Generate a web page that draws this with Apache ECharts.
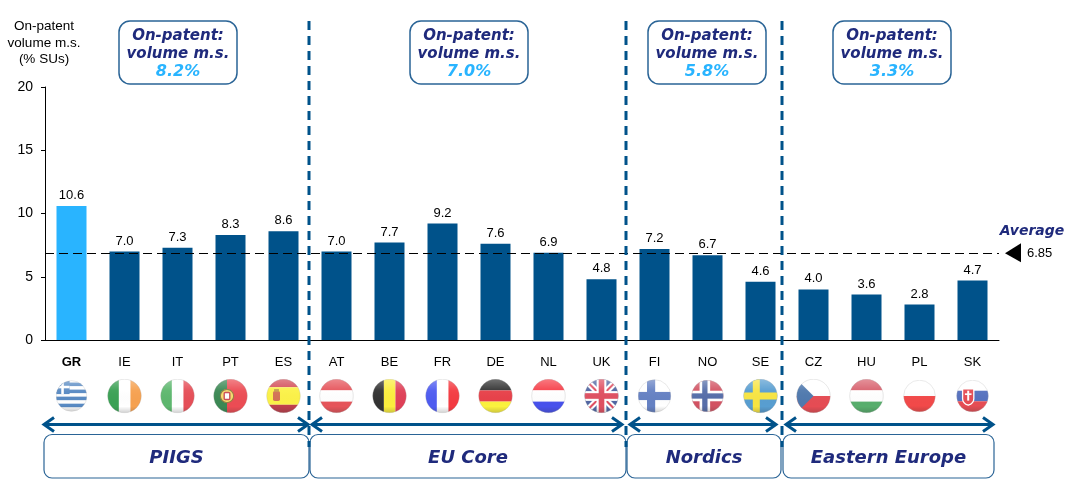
<!DOCTYPE html>
<html>
<head>
<meta charset="utf-8">
<style>html,body{margin:0;padding:0;background:#fff}#c{width:1069px;height:494px}</style>
<script src="https://cdn.jsdelivr.net/npm/echarts@6/dist/echarts.min.js"></script>
</head>
<body>
<div id="c"></div>
<script>
const categories = ['GR','IE','IT','PT','ES','AT','BE','FR','DE','NL','UK','FI','NO','SE','CZ','HU','PL','SK'];
const values = [10.6,7.0,7.3,8.3,8.6,7.0,7.7,9.2,7.6,6.9,4.8,7.2,6.7,4.6,4.0,3.6,2.8,4.7];
const averageValue = 6.85;
const regionNames = ['PIIGS','EU Core','Nordics','Eastern Europe'];
const regionShares = ['8.2%','7.0%','5.8%','3.3%'];
const yTitle = ['On-patent','volume m.s.','(% SUs)'];
const flagSizes = [32,35,35,35,35,35,35,35,35,35,35,34,33,35,35,35,33,33];

const NAVY = '#1F2A7C', BLUE = '#00528A', SKY = '#29B4FF', EDGE = '#2A6496';
const MONO = '"Liberation Sans", Arial, sans-serif';
const WIDE = '"DejaVu Sans", Verdana, sans-serif';

const h = (c) => `<rect x="0" y="0" width="100" height="100" fill="${c}"/>`;
const r = (x,y,w,hh,c) => `<rect x="${x}" y="${y}" width="${w}" height="${hh}" fill="${c}"/>`;
const flagArt = {
  GR: h('#fff')+[8,30,52,74].map(y=>r(0,y,100,11,'#2F6DB5')).join('')+r(0,0,44,44,'#2F6DB5')+r(18,0,8,44,'#fff')+r(0,18,44,8,'#fff'),
  IE: r(0,0,34,100,'#0A8A2A')+r(34,0,33,100,'#fff')+r(67,0,33,100,'#F58A24'),
  IT: r(0,0,34,100,'#35A64A')+r(34,0,33,100,'#fff')+r(67,0,33,100,'#E0232E'),
  PT: r(0,0,40,100,'#0B6B2A')+r(40,0,60,100,'#E8202A')+'<circle cx="40" cy="50" r="19" fill="#F4D24A" stroke="#7A5A12" stroke-width="3"/><rect x="32" y="40" width="16" height="20" rx="3" fill="#fff" stroke="#C0202A" stroke-width="4"/>',
  ES: r(0,0,100,25,'#C8202E')+r(0,25,100,50,'#FBEF1A')+r(0,75,100,25,'#B01020')+'<rect x="20" y="36" width="20" height="28" rx="5" fill="#C9502A"/><rect x="23" y="30" width="14" height="8" fill="#B8881E"/>',
  AT: r(0,0,100,34,'#E02A32')+r(0,34,100,32,'#fff')+r(0,66,100,34,'#E02A32'),
  BE: r(0,0,34,100,'#000')+r(34,0,33,100,'#FBEA0E')+r(67,0,33,100,'#D8102E'),
  FR: r(0,0,34,100,'#2233EE')+r(34,0,33,100,'#fff')+r(67,0,33,100,'#F20A12'),
  DE: r(0,0,100,34,'#000')+r(0,34,100,32,'#E3111C')+r(0,66,100,34,'#FBEF0E'),
  NL: r(0,0,100,34,'#F5101C')+r(0,34,100,32,'#fff')+r(0,66,100,34,'#1A26E8'),
  UK: h('#26408C')+'<path d="M0 0L100 100M100 0L0 100" stroke="#fff" stroke-width="18"/><path d="M0 0L100 100M100 0L0 100" stroke="#D8243A" stroke-width="6"/>'+r(0,36,100,28,'#fff')+r(36,0,28,100,'#fff')+r(0,42,100,16,'#D8243A')+r(42,0,16,100,'#D8243A'),
  FI: h('#fff')+r(0,38,100,24,'#3F62B5')+r(28,0,24,100,'#3F62B5'),
  NO: h('#C8283C')+r(0,34,100,32,'#fff')+r(26,0,32,100,'#fff')+r(0,42,100,16,'#2C4A94')+r(34,0,16,100,'#2C4A94'),
  SE: h('#2F86C6')+r(0,40,100,20,'#F7DF14')+r(28,0,20,100,'#F7DF14'),
  CZ: r(0,0,100,50,'#fff')+r(0,50,100,50,'#E0202A')+'<path d="M0 0L50 50L0 100Z" fill="#24589A"/>',
  HU: r(0,0,100,34,'#CF3A4A')+r(0,34,100,32,'#fff')+r(0,66,100,34,'#2E9A48'),
  PL: r(0,0,100,50,'#fff')+r(0,50,100,50,'#F01C1C'),
  SK: r(0,0,100,34,'#fff')+r(0,34,100,32,'#2C4FB0')+r(0,66,100,34,'#E0202A')+'<path d="M20 28H54V58Q54 72 37 78Q20 72 20 58Z" fill="#E0202A" stroke="#fff" stroke-width="4"/><rect x="34" y="34" width="6" height="30" fill="#fff"/><rect x="27" y="42" width="20" height="5" fill="#fff"/>'
};
function flagUri(code, size) {
  const id = 'g' + code;
  const svg = `<svg xmlns="http://www.w3.org/2000/svg" width="${size*2}" height="${size*2}" viewBox="0 0 100 100">`+
    `<defs><clipPath id="c${id}"><circle cx="50" cy="50" r="48"/></clipPath>`+
    `<linearGradient id="${id}" x1="0" y1="0" x2="0" y2="1"><stop offset="0" stop-color="#fff" stop-opacity="0.32"/><stop offset="0.35" stop-color="#fff" stop-opacity="0.04"/><stop offset="0.8" stop-color="#000" stop-opacity="0"/><stop offset="1" stop-color="#000" stop-opacity="0.25"/></linearGradient></defs>`+
    `<g clip-path="url(#c${id})">${flagArt[code]}<rect x="0" y="0" width="100" height="100" fill="url(#${id})"/></g>`+
    `<circle cx="50" cy="50" r="48" fill="none" stroke="#999" stroke-opacity="0.4" stroke-width="2"/></svg>`;
  return 'image://data:image/svg+xml;charset=utf-8,' + encodeURIComponent(svg);
}

const chart = echarts.init(document.getElementById('c'), null, {renderer:'canvas'});

const separators = [309, 626, 782];
const boxes = [[119,21],[410,21],[648,21],[833,21]];
const boxW = 118, boxH = 63;
const bottom = [[44,309],[310,626],[627,781],[783,994]];
const arrows = [[43,309],[311,623],[629,777],[785,994]];

const g = [];
yTitle.forEach((t,i)=>g.push({type:'text',z:10,style:{x:44,y:26.5+i*16.5,text:t,font:`13.5px ${MONO}`,fill:'#000',align:'center',verticalAlign:'middle'}}));

boxes.forEach((b,i)=>{
  g.push({type:'rect',z:5,shape:{x:b[0],y:b[1],width:boxW,height:boxH,r:11},style:{fill:'#fff',stroke:EDGE,lineWidth:1.5}});
  const cx=b[0]+boxW/2;
  g.push({type:'text',z:6,style:{x:cx,y:36.5,text:'On-patent:',font:`italic bold 15px ${WIDE}`,fill:NAVY,align:'center',verticalAlign:'middle'}});
  g.push({type:'text',z:6,style:{x:cx,y:54,text:'volume m.s.',font:`italic bold 15px ${WIDE}`,fill:NAVY,align:'center',verticalAlign:'middle'}});
  g.push({type:'text',z:6,style:{x:cx,y:72,text:regionShares[i],font:`italic bold 16px ${WIDE}`,fill:SKY,align:'center',verticalAlign:'middle'}});
});
bottom.forEach((b,i)=>{
  g.push({type:'rect',z:5,shape:{x:b[0],y:434.5,width:b[1]-b[0],height:43.5,r:8},style:{fill:'#fff',stroke:EDGE,lineWidth:1.2}});
  g.push({type:'text',z:6,style:{x:(b[0]+b[1])/2,y:458.5,text:regionNames[i],font:`italic bold 18px ${WIDE}`,fill:NAVY,align:'center',verticalAlign:'middle'}});
});
arrows.forEach(a=>{
  const y=424.5, s={stroke:BLUE,lineWidth:3,fill:null};
  g.push({type:'line',z:7,shape:{x1:a[0]+2,y1:y,x2:a[1]-2,y2:y},style:s});
  g.push({type:'polyline',z:7,shape:{points:[[a[0]+11,y-7],[a[0]+1,y],[a[0]+11,y+7]]},style:s});
  g.push({type:'polyline',z:7,shape:{points:[[a[1]-11,y-7],[a[1]-1,y],[a[1]-11,y+7]]},style:s});
});
separators.forEach(x=>g.push({type:'line',z:8,shape:{x1:x,y1:21,x2:x,y2:447},style:{stroke:BLUE,lineWidth:3,lineDash:[9,6]}}));

chart.setOption({
  animation:false,
  backgroundColor:'#fff',
  textStyle:{fontFamily:MONO},
  grid:[
    {left:45,right:70,top:87,height:253,containLabel:false},
    {left:45,right:70,top:380,height:32}
  ],
  xAxis:[
    {type:'category',gridIndex:0,data:categories,
     axisLine:{show:true,onZero:false,lineStyle:{color:'#000',width:1}},axisTick:{show:false},
     axisLabel:{margin:16,fontSize:13,color:'#000',fontFamily:MONO,interval:0,
       formatter:(v,i)=>i===0?`{b|${v}}`:v,rich:{b:{fontWeight:'bold',fontSize:13,color:'#000',fontFamily:MONO}}}},
    {type:'category',gridIndex:1,data:categories,show:false}
  ],
  yAxis:[
    {type:'value',gridIndex:0,min:0,max:20,interval:5,
     axisLine:{show:true,lineStyle:{color:'#000',width:1}},
     axisTick:{show:true,length:4,lineStyle:{color:'#000'}},
     axisLabel:{margin:12,fontSize:14,color:'#000',fontFamily:MONO,padding:[2,0,0,0]},
     splitLine:{show:false}},
    {type:'value',gridIndex:1,min:-1,max:1,show:false}
  ],
  series:[
    {type:'bar',xAxisIndex:0,yAxisIndex:0,barWidth:30,
     data:values.map((v,i)=>({value:v,itemStyle:{color:i===0?SKY:BLUE}})),
     label:{show:true,position:'top',distance:4,fontSize:13,color:'#000',fontFamily:MONO,formatter:p=>p.value.toFixed(1)},
     markLine:{silent:true,symbol:'none',label:{show:false},
       lineStyle:{color:'#000',type:[9,5],width:1},
       data:[{yAxis:averageValue}]}},
    {type:'scatter',xAxisIndex:1,yAxisIndex:1,silent:true,
     data:categories.map((c,i)=>({value:[c,0],symbol:flagUri(c,flagSizes[i]),symbolSize:flagSizes[i]}))}
  ],
  graphic:g
});

const ay = chart.convertToPixel({yAxisIndex:0}, averageValue);
chart.setOption({graphic:g.concat([
  {type:'polygon',z:6,shape:{points:[[1005,ay],[1021,ay-10],[1021,ay+9]]},style:{fill:'#000'}},
  {type:'text',z:6,style:{x:1027,y:ay,text:String(averageValue),font:`13px ${MONO}`,fill:'#000',align:'left',verticalAlign:'middle'}},
  {type:'text',z:6,style:{x:1032,y:ay-22,text:'Average',font:`italic bold 14px ${WIDE}`,fill:NAVY,align:'center',verticalAlign:'middle'}}
])});
</script>
</body>
</html>
